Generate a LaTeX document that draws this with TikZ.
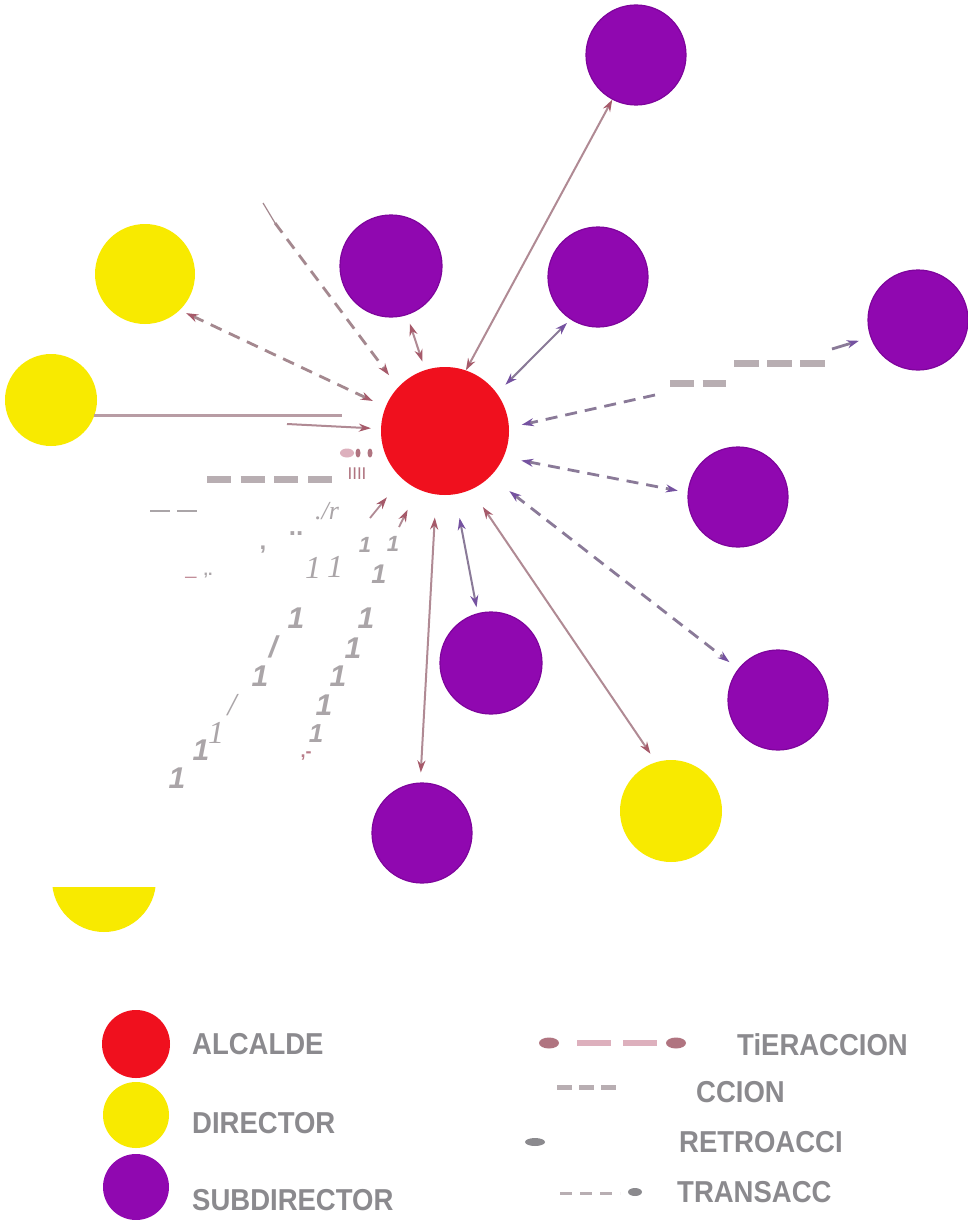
\documentclass[tikz,border=0pt]{standalone}
\usepackage{fontspec}
\setmainfont{Liberation Sans}
\newfontfamily\seriff{Liberation Serif}
\usetikzlibrary{arrows.meta}
\definecolor{cred}{HTML}{F0101E}
\definecolor{cyel}{HTML}{F8EA00}
\definecolor{cpur}{HTML}{9008B0}
\definecolor{cpurd}{HTML}{7E049C}
\definecolor{crose}{HTML}{A65A6A}
\definecolor{crosel}{HTML}{B08A94}
\definecolor{cvio}{HTML}{7552A0}
\definecolor{cviol}{HTML}{8A7A98}
\definecolor{cdashr}{HTML}{A4888F}
\definecolor{cblock}{HTML}{B8AEB2}
\definecolor{ctxt}{HTML}{8B8A8E}
\definecolor{ctok}{HTML}{AAA5A8}
\definecolor{cpink}{HTML}{DDB0BD}
\definecolor{cdot}{HTML}{B07480}
\definecolor{chl}{HTML}{B89CA4}
\tikzset{
  myr/.tip={Stealth[length=12pt,width=8pt,color=crose]},
  myv/.tip={Stealth[length=12pt,width=8pt,color=cvio]},
  ball/.style={circle,inner sep=0pt,minimum size=#1},
  pball/.style={ball=100pt,fill=cpur,draw=cpurd,line width=1.2pt},
  yball/.style={ball=100pt,fill=cyel},
  lr/.style={draw=crosel,line width=2pt,myr-myr},
  lv/.style={draw=cviol,line width=2pt,myv-myv},
  dr/.style={draw=cdashr,line width=2.8pt,dash pattern=on 12pt off 8pt,myr-myr},
  dv/.style={draw=cviol,line width=2.8pt,dash pattern=on 12pt off 8pt,myv-myv},
  block/.style={draw=cblock,line width=7pt},
  lab/.style={anchor=west,inner sep=0pt,text=ctxt,font=\fontsize{27.5}{30}\selectfont\bfseries},
  tok/.style={inner sep=0pt,text=ctok,font=\fontsize{30}{30}\selectfont\bfseries\itshape},
  tks/.style={inner sep=0pt,text=ctok,font=\seriff\fontsize{32}{32}\selectfont\itshape},
}
\begin{document}
\begin{tikzpicture}[x=1pt,y=-1pt]
\useasboundingbox (0,0) rectangle (967,1220);
\fill[white] (0,0) rectangle (967,1220);

% circles
\node[ball=128pt,fill=cred] (alc) at (445,431) {};
\node[pball] (p1) at (636,55) {};
\node[pball] (p2) at (598,277) {};
\node[pball,minimum size=102pt] (p3) at (391,266) {};
\node[pball] (p5) at (918,320) {};
\node[pball] (p6) at (738,497) {};
\node[pball] (p7) at (778,700) {};
\node[pball,minimum size=102pt] (p8) at (491,663) {};
\node[pball] (p9) at (422,833) {};
\node[yball] (y1) at (145,274) {};
\node[yball,minimum size=92pt] (y2) at (51,400) {};
\node[yball,minimum size=102pt] (y3) at (671,811) {};
\begin{scope}
\clip (0,887) rectangle (300,1000);
\node[yball,minimum size=104pt] (y4) at (104,880) {};
\end{scope}

% connectors
\draw[lr] (alc.71) -- (p1.242);
\draw[lv,shorten <=12pt,shorten >=5pt] (alc.36) -- (p2.237);
\draw[lr,shorten <=9pt,shorten >=9pt] (alc.108) -- (p3.288);
\coordinate (c4a) at (263,203);
\coordinate (c4b) at (275,223);
\draw[draw=cdashr,line width=1.2pt] (c4a) -- (c4b);
\draw[dr,-myr,shorten >=15pt] (c4b) -- (alc.137);
\draw[dr,shorten <=14pt,shorten >=7pt] (alc.158) -- (y1.-46);
\coordinate (c6) at (342,0);
\draw[draw=chl,line width=3pt] (y2.-20) -- (y2.-20 -| c6);
\coordinate (c7) at (287,424);
\draw[draw=crosel,line width=2pt,-myr,shorten >=10pt] (c7) -- (alc.178);
\coordinate (c11a) at (370,518);
\coordinate (c11b) at (399,527);
\draw[draw=crosel,line width=1.8pt,-myr,shorten >=24pt] (c11a) -- (alc.228);
\draw[draw=crosel,line width=1.8pt,-myr,shorten >=23pt] (c11b) -- (alc.245);

\coordinate (c17a) at (655,395);
\draw[dv,-myv,shorten >=13pt] (c17a) -- (alc.3);
\coordinate (b1a) at (670,383);
\coordinate (b1b) at (726,383);
\draw[block,dash pattern=on 23.5pt off 9pt] (b1a) -- (b1b);
\coordinate (b2a) at (734,363);
\coordinate (b2b) at (825,363);
\draw[block,dash pattern=on 25pt off 8pt] (b2a) -- (b2b);
\coordinate (c17b) at (832,349);
\draw[draw=cviol,line width=2.8pt,-myv,shorten >=12pt] (c17b) -- (p5.200);
\draw[dv,shorten <=18pt,shorten >=10pt] (alc.-24) -- (p6.175);
\draw[dv,shorten <=24pt,shorten >=11pt] (alc.-45) -- (p7.142);
\draw[lr,shorten <=21pt,shorten >=10pt] (alc.-66) -- (y3.107);
\draw[lv,shorten <=24pt,shorten >=6pt] (alc.-81) -- (p8.105);
\draw[lr,shorten <=23pt,shorten >=10pt] (alc.262) -- (p9.92);

% fragments at left
\fill[cpink] (347,453) ellipse [x radius=7pt,y radius=4.5pt];
\fill[cdot] (358,453) ellipse [x radius=2.5pt,y radius=4.5pt];
\fill[cdot] (370,453) ellipse [x radius=2.5pt,y radius=4.5pt];
\node[inner sep=0pt,text=cdot,font=\fontsize{17}{17}\selectfont] (bars) at (357,474) {IIII};
\coordinate (b10a) at (207,479);
\coordinate (b10b) at (332,479);
\draw[block,dash pattern=on 24pt off 9.7pt] (b10a) -- (b10b);
\coordinate (c12a) at (150,511);
\coordinate (c12b) at (197,511);
\draw[draw=ctok,line width=2pt,dash pattern=on 20pt off 7pt] (c12a) -- (c12b);
\node[tks,font=\seriff\fontsize{26}{26}\selectfont\itshape] (t0) at (327,511) {./r};

\node[tok,font=\fontsize{22}{22}\selectfont\bfseries\itshape] (t1) at (365,545) {1};
\node[tok,font=\fontsize{22}{22}\selectfont\bfseries\itshape] (t2) at (393,544) {1};
\node[tks] (t3) at (313,568) {1};
\node[tks] (t4) at (335,567) {1};
\node[tok,font=\fontsize{27}{27}\selectfont\bfseries\itshape] (t5) at (379,574) {1};
\node[tok,font=\fontsize{24}{24}\selectfont\bfseries] (t6) at (263,550) {,};
\node[tok,font=\fontsize{26}{26}\selectfont\bfseries] (t7) at (296,534) {..};
\node[inner sep=0pt,text=crose!70,font=\fontsize{20}{20}\selectfont] (t8) at (191,576) {\_};
\node[tok,font=\fontsize{16}{16}\selectfont\bfseries] (t9) at (208,576) {,.};
\node[tok] (t10) at (296,618) {1};
\node[tok] (t11) at (366,618) {1};
\node[tok] (t12) at (273,647) {/};
\node[tok] (t13) at (353,648) {1};
\node[tok] (t14) at (260,676) {1};
\node[tok] (t15) at (338,676) {1};
\node[tks] (t16) at (232,705) {/};
\node[tok] (t17) at (324,705) {1};
\node[tks] (t18) at (216,733) {1};
\node[tok,font=\fontsize{26}{26}\selectfont\bfseries\itshape] (t19) at (316,734) {1};
\node[tok] (t20) at (201,750) {1};
\node[inner sep=0pt,text=crose!80,font=\fontsize{18}{18}\selectfont\bfseries] (t21) at (306,756) {,-};
\node[tok] (t22) at (177,778) {1};

% legend
\node[ball=68pt,fill=cred] (lga) at (136,1044) {};
\node[ball=66pt,fill=cyel] (lgd) at (136,1115) {};
\node[ball=66pt,fill=cpur] (lgs) at (136,1187) {};
\node[lab] (la) at (192,1044) {\scalebox{1}[1.1]{ALCALDE}};
\node[lab] (ld) at (192,1123) {\scalebox{1}[1.1]{DIRECTOR}};
\node[lab] (ls) at (192,1200) {\scalebox{1}[1.1]{SUBDIRECTOR}};

\fill[cdot] (549,1043) ellipse [x radius=10pt,y radius=5.5pt];
\coordinate (k1a) at (577,1043);
\coordinate (k1b) at (657,1043);
\draw[draw=cpink,line width=6pt,dash pattern=on 34pt off 12pt] (k1a) -- (k1b);
\fill[cdot] (676,1043) ellipse [x radius=10pt,y radius=5.5pt];
\coordinate (k2a) at (557,1087);
\coordinate (k2b) at (616,1087);
\draw[draw=cblock,line width=5pt,dash pattern=on 15pt off 7pt] (k2a) -- (k2b);
\fill[ctxt] (535,1142) ellipse [x radius=10pt,y radius=4pt];
\coordinate (k4a) at (560,1193);
\coordinate (k4b) at (620,1193);
\draw[draw=cblock,line width=3pt,dash pattern=on 12pt off 8pt] (k4a) -- (k4b);
\fill[ctxt] (635,1192) ellipse [x radius=7pt,y radius=4pt];
\node[lab] (lt) at (737,1045) {\scalebox{1}[1.1]{TiERACCION}};
\node[lab] (lc) at (696,1092) {\scalebox{1}[1.1]{CCION}};
\node[lab] (lr) at (679,1142) {\scalebox{1}[1.1]{RETROACCI}};
\node[lab] (ltr) at (677,1192) {\scalebox{1}[1.1]{TRANSACC}};
\end{tikzpicture}
\end{document}
